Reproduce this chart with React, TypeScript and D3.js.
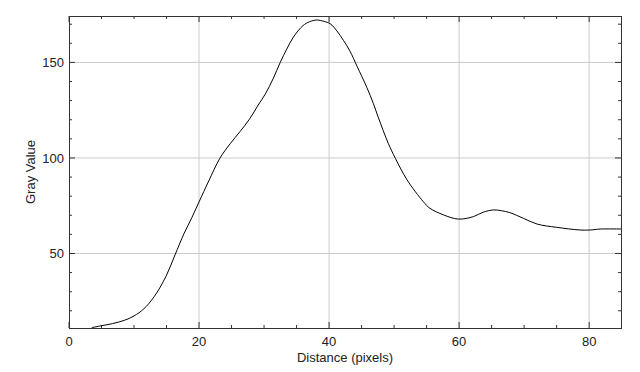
import * as d3 from "d3";

const WIDTH = 640;
const HEIGHT = 372;
const MARGIN = { top: 16, right: 19, bottom: 44, left: 69 };

// profile samples
const distance = [
  3.5, 5, 6.7, 8.5, 10, 11.5, 13.1, 14.9, 16.3, 17.7, 18.9, 20, 21.5, 23.2,
  24.8, 26.3, 27.8, 29.1, 30.2, 31.4, 32.5, 33.5, 34.5, 36, 37, 38.1, 39.2,
  40.2, 41.2, 42.2, 43.2, 44.3, 45.8, 46.8, 47.6, 49.1, 50.2, 52, 54.5, 55.5,
  57.6, 59.9, 62.2, 63.7, 65.3, 66.5, 67.8, 69.9, 72, 75, 78.6, 80.2, 81.7, 85,
];
const grayValue = [
  11.2, 12.2, 13.3, 15, 17.3, 21, 27.4, 37.9, 49.2, 60.5, 68.8, 77, 88, 99.8,
  107.5, 113.8, 120.5, 127.7, 133.5, 141.5, 150.1, 157, 163.2, 169.3, 171.3,
  172.2, 171.5, 170.2, 166.5, 161.6, 156, 148, 137, 128.6, 121, 107.7,
  99.8, 88.5, 77.1, 73.7, 70.2, 68, 69.3, 71.6, 72.8, 72.4, 71.4, 68.4, 65.4,
  63.7, 62.3, 62.3, 62.8, 62.8,
];

const xMajor = [0, 20, 40, 60, 80];
const yMajor = [50, 100, 150];
const X_DOMAIN = [0, 84.9];
const Y_DOMAIN = [11, 174.3];

const FONT = "'Liberation Sans', Arial, sans-serif";

export default function App() {
  const boundsWidth = WIDTH - MARGIN.left - MARGIN.right;
  const boundsHeight = HEIGHT - MARGIN.top - MARGIN.bottom;

  const xScale = d3.scaleLinear().domain(X_DOMAIN).range([0, boundsWidth]);
  const yScale = d3.scaleLinear().domain(Y_DOMAIN).range([boundsHeight, 0]);

  const points = distance.map((d, i) => [d, grayValue[i]] as [number, number]);
  const line = d3
    .line<[number, number]>()
    .x((d) => xScale(d[0]))
    .y((d) => yScale(d[1]))
    .curve(d3.curveCatmullRom);

  const xMinor = d3.range(5, 85, 5).filter((v) => v % 20 !== 0);
  const yMinor = d3.range(20, 175, 10).filter((v) => v % 50 !== 0);

  return (
    <svg
      width={WIDTH}
      height={HEIGHT}
      style={{ position: "absolute", left: 0, top: 0, background: "white" }}
    >
      <defs>
        <clipPath id="plot-clip">
          <rect width={boundsWidth} height={boundsHeight} />
        </clipPath>
      </defs>
      <g transform={`translate(${MARGIN.left},${MARGIN.top})`}>
        {/* grid */}
        {xMajor
          .filter((v) => v > 0)
          .map((v) => (
            <line
              key={"gx" + v}
              x1={xScale(v)}
              x2={xScale(v)}
              y1={0}
              y2={boundsHeight}
              stroke="#cccccc"
            />
          ))}
        {yMajor.map((v) => (
          <line
            key={"gy" + v}
            x1={0}
            x2={boundsWidth}
            y1={yScale(v)}
            y2={yScale(v)}
            stroke="#cccccc"
          />
        ))}

        {/* ticks on all four sides */}
        {xMinor.map((v) => (
          <g key={"tx" + v} stroke="#333">
            <line x1={xScale(v)} x2={xScale(v)} y1={boundsHeight} y2={boundsHeight - 3} />
            <line x1={xScale(v)} x2={xScale(v)} y1={0} y2={3} />
          </g>
        ))}
        {xMajor.map((v) => (
          <g key={"txm" + v} stroke="#333">
            <line x1={xScale(v)} x2={xScale(v)} y1={boundsHeight} y2={boundsHeight - 6} />
            <line x1={xScale(v)} x2={xScale(v)} y1={0} y2={6} />
          </g>
        ))}
        {yMinor.map((v) => (
          <g key={"ty" + v} stroke="#333">
            <line x1={0} x2={3} y1={yScale(v)} y2={yScale(v)} />
            <line x1={boundsWidth} x2={boundsWidth - 3} y1={yScale(v)} y2={yScale(v)} />
          </g>
        ))}
        {yMajor.map((v) => (
          <g key={"tym" + v} stroke="#333">
            <line x1={0} x2={6} y1={yScale(v)} y2={yScale(v)} />
            <line x1={boundsWidth} x2={boundsWidth - 6} y1={yScale(v)} y2={yScale(v)} />
          </g>
        ))}

        <path
          d={line(points)!}
          fill="none"
          stroke="#000"
          strokeWidth={1}
          clipPath="url(#plot-clip)"
        />

        <rect
          x={0.5}
          y={0.5}
          width={boundsWidth}
          height={boundsHeight}
          fill="none"
          stroke="#333"
        />

        {/* tick labels */}
        {xMajor.map((v) => (
          <text
            key={"lx" + v}
            x={xScale(v)}
            y={boundsHeight + 18}
            textAnchor="middle"
            fontSize={13}
            fontFamily={FONT}
            fill="#222"
          >
            {v}
          </text>
        ))}
        {yMajor.map((v) => (
          <text
            key={"ly" + v}
            x={-5}
            y={yScale(v)}
            dy="0.36em"
            textAnchor="end"
            fontSize={13}
            fontFamily={FONT}
            fill="#222"
          >
            {v}
          </text>
        ))}

        <text
          x={boundsWidth / 2}
          y={boundsHeight + 34}
          textAnchor="middle"
          fontSize={13}
          fontFamily={FONT}
          fill="#222"
        >
          Distance (pixels)
        </text>
        <text
          transform={`translate(${-34},${boundsHeight / 2}) rotate(-90)`}
          textAnchor="middle"
          fontSize={13}
          fontFamily={FONT}
          fill="#222"
        >
          Gray Value
        </text>
      </g>
    </svg>
  );
}
